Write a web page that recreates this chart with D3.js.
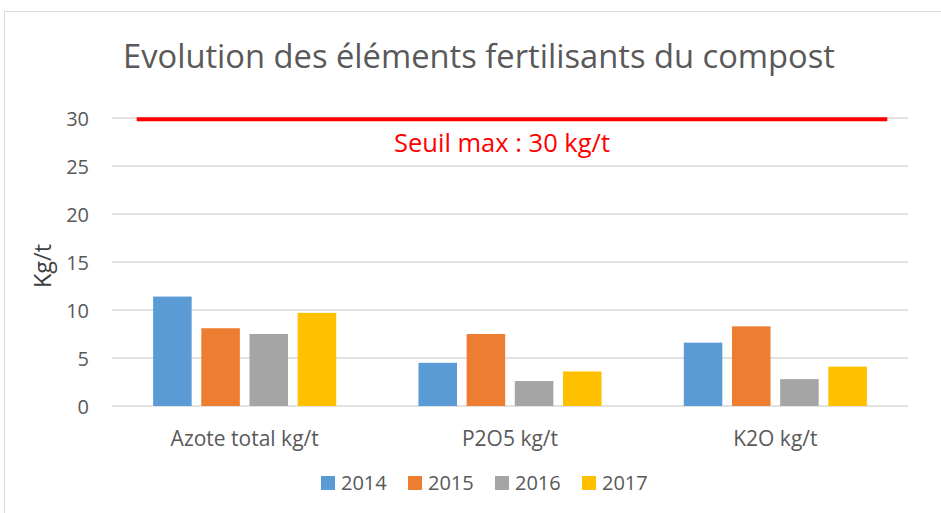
<!DOCTYPE html>
<html>
<head>
<meta charset="utf-8">
<script src="https://cdn.jsdelivr.net/npm/d3@7"></script>
<style>
  body { margin: 0; background: #fff; }
  svg text { font-family: "Open Sans", "Liberation Sans", sans-serif; }
</style>
</head>
<body>
<div id="chart"></div>
<script>
// categories, years and values
const categories = ["Azote total kg/t", "P2O5 kg/t", "K2O kg/t"];
const years = ["2014", "2015", "2016", "2017"];
const v2014 = [11.4, 4.5, 6.6];
const v2015 = [8.1, 7.5, 8.3];
const v2016 = [7.5, 2.6, 2.8];
const v2017 = [9.7, 3.6, 4.1];
const yTicks = [0, 5, 10, 15, 20, 25, 30];
const seuil = 30;
const colors = ["#5B9BD5", "#ED7D31", "#A5A5A5", "#FFC000"];

const series = [v2014, v2015, v2016, v2017];
const data = categories.map((c, i) => ({
  cat: c,
  vals: years.map((y, j) => ({year: y, value: series[j][i]}))
}));

var W = 941, H = 513;
var margin = {top: 118, right: 33, bottom: 107, left: 112},
    width = W - margin.left - margin.right,
    height = H - margin.top - margin.bottom;

var svg = d3.select("#chart").append("svg")
    .attr("width", W)
    .attr("height", H);

// chart area border
svg.append("rect")
   .attr("x", 4.5).attr("y", 11.5)
   .attr("width", W).attr("height", H)
   .attr("fill", "none")
   .attr("stroke", "#d9d9d9");

svg.append("text")
   .attr("x", 479).attr("y", 68)
   .attr("text-anchor", "middle")
   .style("font-size", "32.7px")
   .attr("fill", "#595959")
   .text("Evolution des éléments fertilisants du compost");

var g = svg.append("g")
   .attr("transform", "translate(" + margin.left + "," + margin.top + ")");

var x0 = d3.scaleBand().domain(categories).range([0, width]);
var groupW = x0.bandwidth() * 0.69;
var x1 = d3.scaleBand().domain(years)
   .range([(x0.bandwidth() - groupW) / 2, (x0.bandwidth() + groupW) / 2])
   .paddingInner(0.2);
var y = d3.scaleLinear().domain([0, 30]).range([height, 0]);

// gridlines
g.append("g")
   .selectAll("line")
   .data(yTicks)
   .enter().append("line")
   .attr("x1", 0).attr("x2", width)
   .attr("y1", d => y(d)).attr("y2", d => y(d))
   .attr("stroke", "#d9d9d9")
   .attr("stroke-width", 1.5);

// y tick labels
var yAxis = g.append("g")
   .call(d3.axisLeft(y).tickValues(yTicks).tickSize(0).tickPadding(23));
yAxis.select(".domain").remove();
yAxis.selectAll("text")
   .attr("dy", "0.36em")
   .style("font-size", "20px")
   .style("font-family", "Open Sans, sans-serif")
   .attr("fill", "#595959");

// bars
var groups = g.selectAll(".grp")
   .data(data)
   .enter().append("g")
   .attr("class", "grp")
   .attr("transform", d => "translate(" + x0(d.cat) + ",0)");

groups.selectAll("rect")
   .data(d => d.vals)
   .enter().append("rect")
   .attr("x", d => x1(d.year))
   .attr("width", x1.bandwidth())
   .attr("y", d => y(d.value))
   .attr("height", d => height - y(d.value))
   .attr("fill", (d, i) => colors[i]);

// x axis labels
var xAxis = g.append("g")
   .attr("transform", "translate(0," + height + ")")
   .call(d3.axisBottom(x0).tickSize(0).tickPadding(0));
xAxis.select(".domain").remove();
xAxis.selectAll("text")
   .attr("dy", null)
   .attr("y", 40)
   .style("font-size", "21px")
   .style("font-family", "Open Sans, sans-serif")
   .attr("fill", "#595959");

// threshold line
g.append("line")
   .attr("x1", width * 0.031).attr("x2", width * 0.974)
   .attr("y1", y(seuil) + 1.2).attr("y2", y(seuil) + 1.2)
   .attr("stroke", "#ff0000")
   .attr("stroke-width", 4);

g.append("text")
   .attr("x", width * 0.49).attr("y", y(seuil) + 34)
   .attr("text-anchor", "middle")
   .style("font-size", "25.5px")
   .attr("fill", "#ff0000")
   .text("Seuil max : " + seuil + " kg/t");

// y axis title
svg.append("text")
   .attr("transform", "translate(51,266) rotate(-90)")
   .attr("text-anchor", "middle")
   .style("font-size", "23.5px")
   .attr("fill", "#404040")
   .text("Kg/t");

// legend
var legend = svg.append("g")
   .attr("transform", "translate(321,476)");
var item = legend.selectAll("g")
   .data(years)
   .enter().append("g")
   .attr("transform", (d, i) => "translate(" + i * 87 + ",0)");
item.append("rect")
   .attr("width", 14).attr("height", 14)
   .attr("fill", (d, i) => colors[i]);
item.append("text")
   .attr("x", 20).attr("y", 14)
   .style("font-size", "20px")
   .attr("fill", "#595959")
   .text(d => d);
</script>
</body>
</html>
